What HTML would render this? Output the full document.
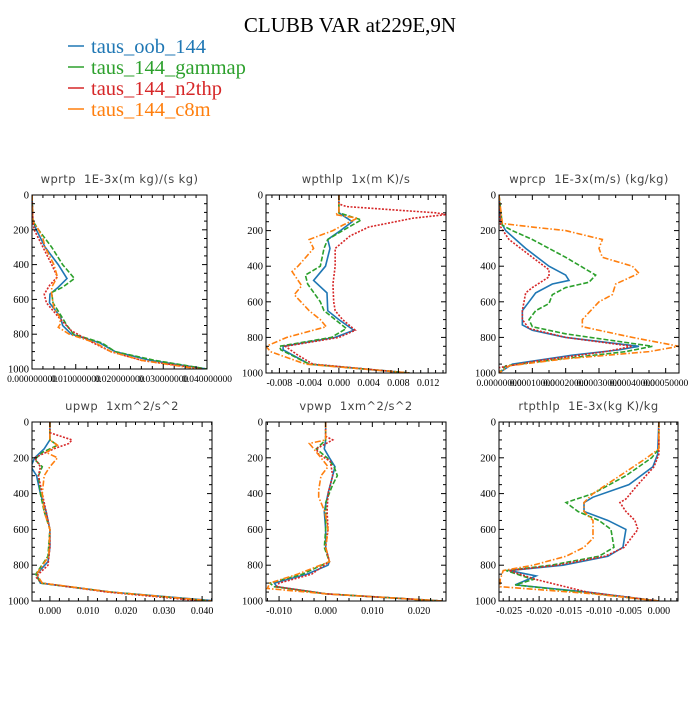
<!DOCTYPE html>
<html><head><meta charset="utf-8">
<style>
body{margin:0;background:#fff;width:700px;height:700px;overflow:hidden}
svg text{font-family:"Liberation Serif",serif}
</style></head><body>
<svg id="chart" width="700" height="700" viewBox="0 0 700 700">
<text x="350" y="32" text-anchor="middle" font-size="21">CLUBB VAR at229E,9N</text>
<g>
<g><line x1="68" y1="46" x2="84" y2="46" stroke="#1f77b4" stroke-width="1.5"/><text x="91" y="53" font-size="20.5" fill="#1f77b4">taus_oob_144</text></g>
<g><line x1="68" y1="67" x2="84" y2="67" stroke="#2ca02c" stroke-width="1.5"/><text x="91" y="74" font-size="20.5" fill="#2ca02c">taus_144_gammap</text></g>
<g><line x1="68" y1="88" x2="84" y2="88" stroke="#d62728" stroke-width="1.5"/><text x="91" y="95" font-size="20.5" fill="#d62728">taus_144_n2thp</text></g>
<g><line x1="68" y1="109" x2="84" y2="109" stroke="#ff7f0e" stroke-width="1.5"/><text x="91" y="116" font-size="20.5" fill="#ff7f0e">taus_144_c8m</text></g>
</g>
<g id="panels"></g>
</svg>
<script>
const seriesNames = ["taus_oob_144","taus_144_gammap","taus_144_n2thp","taus_144_c8m"];
const yTicks = [0,200,400,600,800,1000];

const wprtpBlue=[[0,0],[150,0.0002],[200,0.001],[300,0.003],[400,0.006],[480,0.008],[530,0.006],[570,0.0041],[620,0.004],[700,0.0065],[750,0.007],[800,0.009],[850,0.0155],[900,0.019],[950,0.027],[1000,0.040]];
const wprtpGreen=[[0,0],[150,0.0002],[200,0.0015],[300,0.0045],[400,0.007],[480,0.0097],[530,0.007],[560,0.0045],[620,0.0048],[700,0.0068],[750,0.008],[800,0.0095],[850,0.016],[900,0.019],[950,0.028],[1000,0.040]];
const wprtpRed=[[0,0],[150,0.0002],[200,0.0005],[300,0.0025],[400,0.0045],[470,0.0058],[520,0.004],[570,0.0028],[620,0.0033],[700,0.006],[780,0.009],[850,0.014],[900,0.018],[950,0.025],[1000,0.039]];
const wprtpOrange=[[0,0],[150,0.0002],[200,0.0015],[250,0.0025],[300,0.003],[400,0.005],[470,0.0058],[530,0.0045],[570,0.0045],[650,0.005],[700,0.0063],[740,0.0065],[760,0.006],[800,0.0085],[850,0.0145],[900,0.018],[950,0.025],[1000,0.038]];

const wpthlpBlue=[[0,0],[100,0],[150,0.0018],[200,0.0002],[250,-0.0015],[300,-0.0012],[400,-0.0018],[480,-0.0034],[550,-0.0016],[650,-0.0015],[700,0],[760,0.002],[800,-0.0005],[850,-0.0075],[870,-0.0075],[950,-0.004],[1000,0.0095]];
const wpthlpGreen=[[0,0],[100,0],[140,0.003],[200,0.0005],[250,-0.0015],[300,-0.002],[400,-0.0025],[450,-0.0045],[500,-0.0042],[600,-0.0025],[650,-0.002],[700,-0.0005],[750,0.001],[800,-0.001],[850,-0.008],[870,-0.0078],[950,-0.004],[1000,0.0095]];
const wpthlpRed=[[0,0],[50,0],[65,0.001],[100,0.013],[110,0.0145],[130,0.010],[180,0.004],[230,0.0015],[300,-0.0005],[400,-0.0005],[500,-0.0008],[600,-0.0007],[650,-0.0005],[700,0.0005],[760,0.0022],[800,0],[850,-0.0072],[900,-0.0055],[950,-0.0035],[1000,0.0095]];
const wpthlpOrange=[[0,0],[100,0],[110,-0.0005],[130,0.0025],[170,0.0005],[200,-0.0008],[250,-0.004],[300,-0.0034],[400,-0.0055],[430,-0.0063],[510,-0.005],[560,-0.006],[650,-0.004],[700,-0.0025],[740,-0.0017],[800,-0.007],[850,-0.0098],[880,-0.0092],[950,-0.0045],[1000,0.0095]];

const wprcpBlue=[[0,0],[150,0.000005],[200,0.00002],[300,0.00008],[400,0.00015],[450,0.0002],[480,0.00021],[500,0.00016],[550,0.00011],[600,0.00009],[650,0.00007],[700,0.00007],[730,0.00007],[760,0.0001],[800,0.0002],[850,0.00042],[870,0.00036],[900,0.00022],[950,0.00004],[1000,0]];
const wprcpGreen=[[0,0],[170,0.00001],[200,0.00004],[250,0.0001],[350,0.0002],[450,0.00029],[490,0.00027],[520,0.0002],[560,0.00016],[610,0.00015],[650,0.00011],[700,0.00009],[740,0.0001],[780,0.0002],[850,0.00046],[880,0.00038],[920,0.00019],[960,0.00002],[1000,0]];
const wprcpRed=[[0,0],[180,0.000005],[250,0.00003],[350,0.0001],[420,0.00015],[460,0.00015],[520,0.0001],[550,0.00008],[650,0.00007],[700,0.00007],[750,0.00009],[800,0.0002],[850,0.0004],[880,0.00032],[930,0.00012],[970,0],[1000,0]];
const wprcpOrange=[[0,0],[160,0.00001],[180,0.0001],[200,0.0002],[250,0.00031],[300,0.0003],[350,0.00031],[400,0.0004],[440,0.00042],[500,0.00035],[560,0.00034],[600,0.0003],[700,0.00025],[740,0.00025],[800,0.0004],[850,0.00054],[880,0.00045],[920,0.0002],[960,0.00003],[1000,0]];

const upwpBlue=[[0,0],[100,0],[150,-0.0015],[200,-0.004],[250,-0.005],[300,-0.0035],[400,-0.0025],[500,-0.001],[600,0],[700,0],[780,-0.0005],[850,-0.0035],[900,-0.0025],[950,0.016],[1000,0.044]];
const upwpGreen=[[0,0],[100,0],[130,0.002],[170,-0.002],[210,-0.004],[250,-0.002],[300,-0.003],[400,-0.0025],[500,-0.0015],[600,0],[750,-0.0005],[850,-0.0037],[900,-0.0025],[950,0.016],[1000,0.042]];
const upwpRed=[[0,0],[60,0],[100,0.0058],[120,0.005],[150,0.001],[200,-0.004],[250,-0.0025],[300,-0.003],[500,-0.001],[600,0],[700,0],[800,-0.0005],[850,-0.003],[870,-0.0035],[900,-0.002],[950,0.015],[1000,0.040]];
const upwpOrange=[[0,0],[100,0],[130,0.002],[170,-0.001],[200,0.002],[250,0],[300,-0.0015],[400,-0.002],[500,-0.0015],[600,0],[750,-0.0003],[850,-0.0035],[900,-0.002],[950,0.016],[1000,0.043]];

const vpwpBlue=[[0,0],[100,0],[150,-0.0003],[200,0.0008],[250,0.002],[300,0.0015],[400,0.0005],[500,-0.0003],[600,0],[700,0],[780,0.0008],[800,0.0005],[850,-0.004],[900,-0.011],[920,-0.0105],[960,0],[1000,0.025]];
const vpwpGreen=[[0,0],[100,0],[150,-0.002],[200,0.0003],[250,0.0018],[300,0.0025],[350,0.0015],[450,0],[600,0],[700,-0.0003],[780,0.0008],[850,-0.005],[900,-0.012],[920,-0.011],[960,0],[1000,0.025]];
const vpwpRed=[[0,0],[80,0],[100,0.0015],[150,-0.002],[180,-0.0015],[220,0.001],[300,0.0015],[400,0.0005],[500,0.0003],[600,0.0005],[700,0],[780,0.0008],[850,-0.003],[900,-0.01],[920,-0.0105],[960,0],[1000,0.025]];
const vpwpOrange=[[0,0],[100,0],[120,-0.0035],[200,-0.001],[250,0.0005],[300,-0.001],[380,-0.0015],[420,-0.0015],[500,-0.0002],[600,0.0005],[700,0],[780,0.0008],[850,-0.006],[900,-0.012],[930,-0.0125],[960,0],[1000,0.025]];

const rtpthlpBlue=[[0,0],[180,-0.0002],[250,-0.001],[350,-0.005],[420,-0.011],[450,-0.0125],[500,-0.0125],[550,-0.0085],[600,-0.0055],[700,-0.006],[750,-0.0085],[800,-0.016],[830,-0.025],[860,-0.0205],[910,-0.024],[950,-0.012],[1000,0]];
const rtpthlpGreen=[[0,0],[150,0],[200,-0.0012],[300,-0.0055],[400,-0.011],[450,-0.0155],[500,-0.0135],[550,-0.010],[600,-0.008],[700,-0.0075],[750,-0.01],[800,-0.018],[830,-0.0255],[880,-0.021],[910,-0.024],[950,-0.013],[1000,0]];
const rtpthlpRed=[[0,0],[180,0],[250,-0.0008],[350,-0.0035],[430,-0.0055],[450,-0.0065],[500,-0.0055],[550,-0.004],[600,-0.0035],[700,-0.0058],[750,-0.009],[800,-0.017],[830,-0.025],[880,-0.0205],[950,-0.012],[1000,0]];
const rtpthlpOrange=[[0,0],[150,0],[200,-0.002],[300,-0.0065],[400,-0.011],[450,-0.0125],[500,-0.0125],[550,-0.011],[650,-0.011],[700,-0.0125],[750,-0.0155],[800,-0.021],[830,-0.026],[880,-0.0265],[920,-0.0265],[960,-0.011],[1000,0]];

const p1XTicks=[0,0.01,0.02,0.03,0.04];
const p1XLabels=["0.000000000","0.010000000","0.020000000","0.030000000","0.040000000"];
const p2XTicks=[-0.008,-0.004,0,0.004,0.008,0.012];
const p2XLabels=["-0.008","-0.004","0.000","0.004","0.008","0.012"];
const p3XTicks=[0,0.0001,0.0002,0.0003,0.0004,0.0005];
const p3XLabels=["0.00000000","0.00010000","0.00020000","0.00030000","0.00040000","0.00050000"];
const p4XTicks=[0,0.01,0.02,0.03,0.04];
const p4XLabels=["0.000","0.010","0.020","0.030","0.040"];
const p5XTicks=[-0.01,0,0.01,0.02];
const p5XLabels=["-0.010","0.000","0.010","0.020"];
const p6XTicks=[-0.025,-0.02,-0.015,-0.01,-0.005,0];
const p6XLabels=["-0.025","-0.020","-0.015","-0.010","-0.005","0.000"];

const panels=[
 {name:"wprtp",title:"wprtp  1E-3x(m kg)/(s kg)",box:[32,195,207,369],xr:[0,0.04],ticks:p1XTicks,labels:p1XLabels,fs:9.5,minor:4,data:[wprtpBlue,wprtpGreen,wprtpRed,wprtpOrange]},
 {name:"wpthlp",title:"wpthlp  1x(m K)/s",box:[266,195,446,373],xr:[-0.0098,0.0144],ticks:p2XTicks,labels:p2XLabels,fs:10,minor:4,data:[wpthlpBlue,wpthlpGreen,wpthlpRed,wpthlpOrange]},
 {name:"wprcp",title:"wprcp  1E-3x(m/s) (kg/kg)",box:[499,195,679,373],xr:[0,0.00054],ticks:p3XTicks,labels:p3XLabels,fs:9.5,minor:2,data:[wprcpBlue,wprcpGreen,wprcpRed,wprcpOrange]},
 {name:"upwp",title:"upwp  1xm^2/s^2",box:[32,422,212,601],xr:[-0.0047,0.0426],ticks:p4XTicks,labels:p4XLabels,fs:10,minor:4,data:[upwpBlue,upwpGreen,upwpRed,upwpOrange]},
 {name:"vpwp",title:"vpwp  1xm^2/s^2",box:[266,422,446,601],xr:[-0.0128,0.0258],ticks:p5XTicks,labels:p5XLabels,fs:10,minor:4,data:[vpwpBlue,vpwpGreen,vpwpRed,vpwpOrange]},
 {name:"rtpthlp",title:"rtpthlp  1E-3x(kg K)/kg",box:[499,422,678,601],xr:[-0.0267,0.0032],ticks:p6XTicks,labels:p6XLabels,fs:10,minor:5,data:[rtpthlpBlue,rtpthlpGreen,rtpthlpRed,rtpthlpOrange]}
];
const colors=["#1f77b4","#2ca02c","#d62728","#ff7f0e"];
const dashes=["","5,2","2,1.5","6,2,1.5,2"];
const NS="http://www.w3.org/2000/svg";
const root=document.getElementById("panels");
function mk(tag,attrs,parent){const e=document.createElementNS(NS,tag);for(const k in attrs)e.setAttribute(k,attrs[k]);parent.appendChild(e);return e;}
panels.forEach(p=>{
 const [x0,y0,x1,y1]=p.box;
 const sx=v=>x0+(v-p.xr[0])/(p.xr[1]-p.xr[0])*(x1-x0);
 const sy=v=>y0+v/1000*(y1-y0);
 const g=mk("g",{},root);
 
 
 const t=mk("text",{x:(x0+x1)/2,y:y0-12,"text-anchor":"middle","font-size":"11.5",fill:"#444","style":"font-family:'DejaVu Sans',sans-serif;white-space:pre;letter-spacing:0.4px"},g);
 t.textContent=p.title;
 
 
 const clip=mk("clipPath",{id:"c"+p.name},g);
 mk("rect",{x:x0,y:y0,width:x1-x0,height:y1-y0},clip);
 const lines=mk("g",{"clip-path":"url(#c"+p.name+")"},g);
 p.data.forEach((s,i)=>{
  const d=s.map((pt,j)=>(j?"L":"M")+sx(pt[1]).toFixed(2)+","+sy(pt[0]).toFixed(2)).join("");
  const path=mk("path",{d:d,fill:"none",stroke:colors[i],"stroke-width":"1.6","stroke-dasharray":dashes[i]},lines);
  
  
 });
 const ax=mk("g",{stroke:"#000","stroke-width":"1"},g);
 
 
 mk("rect",{x:x0,y:y0,width:x1-x0,height:y1-y0,fill:"none"},ax);
 for(let v=0;v<=1000;v+=50){
  const L=v%200===0?5:3,y=sy(v);
  mk("line",{x1:x0,y1:y,x2:x0+L,y2:y},ax);mk("line",{x1:x1,y1:y,x2:x1-L,y2:y},ax);
 }
 yTicks.forEach(v=>{const tx=mk("text",{x:x0-3,y:sy(v)+3.5,"text-anchor":"end","font-size":"10.5"},g);tx.textContent=v;
  
  });
 const step=p.ticks[1]-p.ticks[0];
 for(let v=p.ticks[0]-step;v<=p.xr[1]+1e-12;v+=step/p.minor){
  if(v<p.xr[0]-1e-12)continue;
  const k=Math.round((v-p.ticks[0])/(step/p.minor));const L=k%p.minor===0?5:3;const x=sx(v);
  mk("line",{x1:x,y1:y1,x2:x,y2:y1-L},ax);mk("line",{x1:x,y1:y0,x2:x,y2:y0+L},ax);
 }
 p.ticks.forEach((v,i)=>{const tx=mk("text",{x:sx(v),y:y1+13,"text-anchor":"middle","font-size":p.fs},g);tx.textContent=p.labels[i];
  
  });
});
</script>
</body></html>
